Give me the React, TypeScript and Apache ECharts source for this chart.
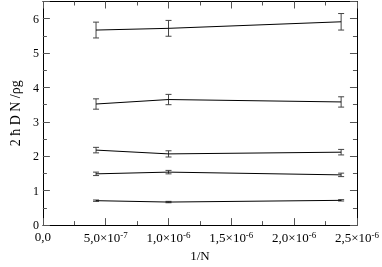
import React, { useEffect, useRef } from "react";
import * as echarts from "echarts";

const xValues = [4.23e-7, 1.0e-6, 2.374e-6];
const seriesY = [
  [5.67, 5.72, 5.91],
  [3.52, 3.65, 3.58],
  [2.18, 2.07, 2.12],
  [1.49, 1.54, 1.46],
  [0.71, 0.67, 0.72],
];
const seriesErr = [
  [0.23, 0.23, 0.24],
  [0.15, 0.15, 0.15],
  [0.08, 0.09, 0.08],
  [0.05, 0.05, 0.05],
  [0.02, 0.02, 0.02],
];
const xTickLabels: Record<string, [string, string]> = {
  "0": ["0,0", ""],
  "5e-7": ["5,0×10", "-7"],
  "0.000001": ["1,0×10", "-6"],
  "0.0000015": ["1,5×10", "-6"],
  "0.000002": ["2,0×10", "-6"],
  "0.0000025": ["2,5×10", "-6"],
};

const FONT = "serif";

export default function App() {
  const ref = useRef<HTMLDivElement>(null);
  useEffect(() => {
    if (!ref.current) return;
    const chart = echarts.init(ref.current, undefined, { renderer: "svg" });
    const errData: number[][] = [];
    seriesY.forEach((ys, si) =>
      ys.forEach((y, i) => errData.push([xValues[i], y, seriesErr[si][i]]))
    );
    const fmtX = (v: number) => {
      const key = Object.keys(xTickLabels).find(
        (k) => Math.abs(Number(k) - v) < 1e-12
      );
      if (!key) return "";
      const [b, s] = xTickLabels[key];
      return s ? `{b|${b}}{s|${s}}` : `{b|${b}}`;
    };
    const axisCommon = {
      type: "value" as const,
      axisLine: { onZero: false, lineStyle: { color: "#000", width: 1 } },
      axisTick: { inside: true, length: 7, lineStyle: { color: "#555" } },
      minorTick: { show: true, splitNumber: 2, length: 4, lineStyle: { color: "#555" } },
      splitLine: { show: false },
      minorSplitLine: { show: false },
    };
    chart.setOption({
      animation: false,
      textStyle: { fontFamily: FONT },
      grid: { left: 26, right: 25, top: 1.5, bottom: 36, containLabel: false },
      xAxis: [
        {
          ...axisCommon,
          min: 0,
          max: 2.5e-6,
          interval: 5e-7,
          position: "bottom",
          name: "1/N",
          nameLocation: "middle",
          nameGap: 23,
          nameTextStyle: { fontFamily: FONT, fontSize: 13, color: "#000" },
          axisLabel: {
            formatter: fmtX,
            margin: 5,
            color: "#000",
            fontFamily: FONT,
            rich: {
              b: { fontFamily: FONT, fontSize: 13, color: "#000" },
              s: { fontFamily: FONT, fontSize: 9, color: "#000", verticalAlign: "top", padding: [0, 0, 6, 0] },
            },
          },
        },
        {
          ...axisCommon,
          min: 0,
          max: 2.5e-6,
          interval: 5e-7,
          position: "top",
          axisLabel: { show: false },
        },
      ],
      yAxis: [
        {
          ...axisCommon,
          min: 0,
          max: 6.5,
          interval: 1,
          position: "left",
          name: "2 ħ D N /ρg",
          nameLocation: "middle",
          nameGap: 10,
          nameTextStyle: { fontFamily: FONT, fontSize: 14, color: "#000" },
          axisLabel: {
            formatter: (v: number) => (Number.isInteger(v) ? String(v) : ""),
            margin: 4,
            fontFamily: FONT,
            fontSize: 12,
            color: "#000",
          },
        },
        {
          ...axisCommon,
          min: 0,
          max: 6.5,
          interval: 1,
          position: "right",
          axisLabel: { show: false },
        },
      ],
      series: [
        ...seriesY.map((ys) => ({
          type: "line",
          xAxisIndex: 0,
          yAxisIndex: 0,
          data: ys.map((y, i) => [xValues[i], y]),
          symbol: "none",
          lineStyle: { color: "#000", width: 1 },
          silent: true,
        })),
        {
          type: "custom",
          xAxisIndex: 0,
          yAxisIndex: 0,
          data: errData,
          silent: true,
          renderItem: (_p: any, api: any) => {
            const x = api.value(0);
            const y = api.value(1);
            const e = api.value(2);
            const lo = api.coord([x, y - e]);
            const hi = api.coord([x, y + e]);
            const cw = 3;
            const st = { stroke: "#444", lineWidth: 1 };
            return {
              type: "group",
              children: [
                { type: "line", shape: { x1: lo[0], y1: lo[1], x2: hi[0], y2: hi[1] }, style: st },
                { type: "line", shape: { x1: lo[0] - cw, y1: lo[1], x2: lo[0] + cw, y2: lo[1] }, style: st },
                { type: "line", shape: { x1: hi[0] - cw, y1: hi[1], x2: hi[0] + cw, y2: hi[1] }, style: st },
              ],
            };
          },
        },
      ],
    });
    return () => chart.dispose();
  }, []);
  return (
    <div
      ref={ref}
      style={{ width: 382, height: 267, position: "fixed", left: 0, top: 0 }}
    />
  );
}
